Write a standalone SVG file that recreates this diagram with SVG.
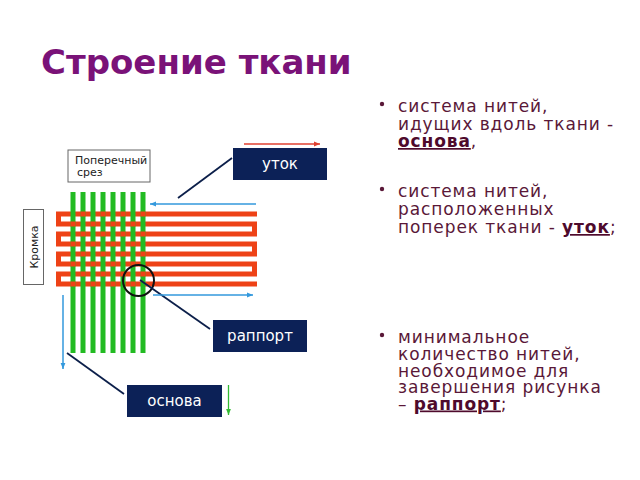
<svg xmlns="http://www.w3.org/2000/svg" xmlns:xlink="http://www.w3.org/1999/xlink" width="640" height="480" viewBox="0 0 640 480">
<style>
.title{font-family:"DejaVu Sans",sans-serif;font-weight:bold;font-size:34px;fill:#7a1278}
.body{font-family:"DejaVu Sans",sans-serif;font-size:17px;letter-spacing:0.9px;fill:#5a1838}
.key{font-weight:bold;fill:#4e0a2c;text-decoration:underline}
.box{fill:#0c2157}
.boxt{font-family:"DejaVu Sans",sans-serif;font-size:15px;fill:#ffffff;text-anchor:middle}
.small{font-family:"DejaVu Sans",sans-serif;font-size:11px;fill:#222}
.frame{fill:#fff;stroke:#666;stroke-width:1}
.warp{fill:#22bb22}
.weft{fill:#ee4216}
.lead{stroke:#0c1f4a;stroke-width:1.8;fill:none}
.blue{stroke:#3399dd;stroke-width:1.5;fill:none}
</style>
<defs>
<marker id="ab" viewBox="0 0 10 10" refX="10" refY="5" markerWidth="6" markerHeight="6" markerUnits="userSpaceOnUse" orient="auto"><path d="M0,1 L10,5 L0,9 z" fill="#3399dd"/></marker>
<marker id="ar" viewBox="0 0 10 10" refX="10" refY="5" markerWidth="6" markerHeight="6" markerUnits="userSpaceOnUse" orient="auto"><path d="M0,1 L10,5 L0,9 z" fill="#e04030"/></marker>
<marker id="ag" viewBox="0 0 10 10" refX="10" refY="5" markerWidth="6" markerHeight="6" markerUnits="userSpaceOnUse" orient="auto"><path d="M0,1 L10,5 L0,9 z" fill="#33bb33"/></marker>
<g id="rowA" class="weft"><rect x="80.5" y="0" width="5" height="5"/><rect x="100.5" y="0" width="5" height="5"/><rect x="120.5" y="0" width="5" height="5"/><rect x="140.5" y="0" width="5" height="5"/></g>
<g id="rowB" class="weft"><rect x="70.5" y="0" width="5" height="5"/><rect x="90.5" y="0" width="5" height="5"/><rect x="110.5" y="0" width="5" height="5"/><rect x="130.5" y="0" width="5" height="5"/></g>
</defs>
<rect width="640" height="480" fill="#ffffff"/>
<text class="title" x="41" y="74">Строение ткани</text>

<g id="text-right" class="body">
<circle cx="382" cy="104" r="2.2" fill="#5a1838"/>
<text x="398" y="112">система нитей,</text>
<text x="398" y="129.5">идущих вдоль ткани -</text>
<text x="398" y="147"><tspan class="key">основа</tspan>,</text>
<circle cx="382" cy="189" r="2.2" fill="#5a1838"/>
<text x="398" y="197">система нитей,</text>
<text x="398" y="215">расположенных</text>
<text x="398" y="233">поперек ткани - <tspan class="key">уток</tspan>;</text>
<circle cx="382" cy="335" r="2.2" fill="#5a1838"/>
<text x="398" y="343">минимальное</text>
<text x="398" y="360">количество нитей,</text>
<text x="398" y="376.5">необходимое для</text>
<text x="398" y="393">завершения рисунка</text>
<text x="398" y="409.5">– <tspan class="key">раппорт</tspan>;</text>
</g>

<g id="fabric">
<path d="M257,214 H58.5 V224 H254.5 V234 H58.5 V244 H254.5 V254 H58.5 V264 H254.5 V274 H58.5 V284 H257" fill="none" stroke="#ee4216" stroke-width="5"/>
<g class="warp">
<rect x="70.5" y="192" width="5" height="161"/>
<rect x="80.5" y="192" width="5" height="161"/>
<rect x="90.5" y="192" width="5" height="161"/>
<rect x="100.5" y="192" width="5" height="161"/>
<rect x="110.5" y="192" width="5" height="161"/>
<rect x="120.5" y="192" width="5" height="161"/>
<rect x="130.5" y="192" width="5" height="161"/>
<rect x="140.5" y="192" width="5" height="161"/>
</g>
<use xlink:href="#rowA" y="211.5"/>
<use xlink:href="#rowB" y="221.5"/>
<use xlink:href="#rowA" y="231.5"/>
<use xlink:href="#rowB" y="241.5"/>
<use xlink:href="#rowA" y="251.5"/>
<use xlink:href="#rowB" y="261.5"/>
<use xlink:href="#rowA" y="271.5"/>
<use xlink:href="#rowB" y="281.5"/>
</g>

<g id="n-srez">
<rect class="frame" x="68" y="150" width="82" height="32"/>
<text class="small" x="75" y="164">Поперечный</text>
<text class="small" x="77" y="176">срез</text>
</g>
<g id="n-kromka">
<rect class="frame" x="23.5" y="209.5" width="20" height="75"/>
<text class="small" transform="translate(37.5,247) rotate(-90)" text-anchor="middle">Кромка</text>
</g>
<g id="n-utok">
<rect class="box" x="233" y="148" width="94" height="32"/>
<text class="boxt" x="280" y="169">уток</text>
</g>
<g id="n-rapport">
<rect class="box" x="213" y="320" width="94" height="32"/>
<text class="boxt" x="260" y="341">раппорт</text>
</g>
<g id="n-osnova">
<rect class="box" x="127" y="385" width="95" height="32"/>
<text class="boxt" x="174.5" y="406">основа</text>
</g>
<g id="n-circle">
<circle cx="138.5" cy="280.5" r="15.5" fill="none" stroke="#111" stroke-width="2"/>
</g>

<g id="connectors">
<line class="lead" x1="232" y1="158" x2="178" y2="198"/>
<line class="lead" x1="140" y1="280" x2="210" y2="329"/>
<line class="lead" x1="67" y1="353" x2="124" y2="394"/>
<line class="blue" x1="256" y1="204" x2="150" y2="204" marker-end="url(#ab)"/>
<line class="blue" x1="153" y1="295" x2="253" y2="295" marker-end="url(#ab)"/>
<line class="blue" x1="63" y1="295" x2="63" y2="369" marker-end="url(#ab)"/>
<line stroke="#e04030" stroke-width="1.3" x1="244" y1="144" x2="320" y2="144" marker-end="url(#ar)"/>
<line stroke="#33bb33" stroke-width="1.3" x1="228.5" y1="385" x2="228.5" y2="415" marker-end="url(#ag)"/>
</g>
</svg>
